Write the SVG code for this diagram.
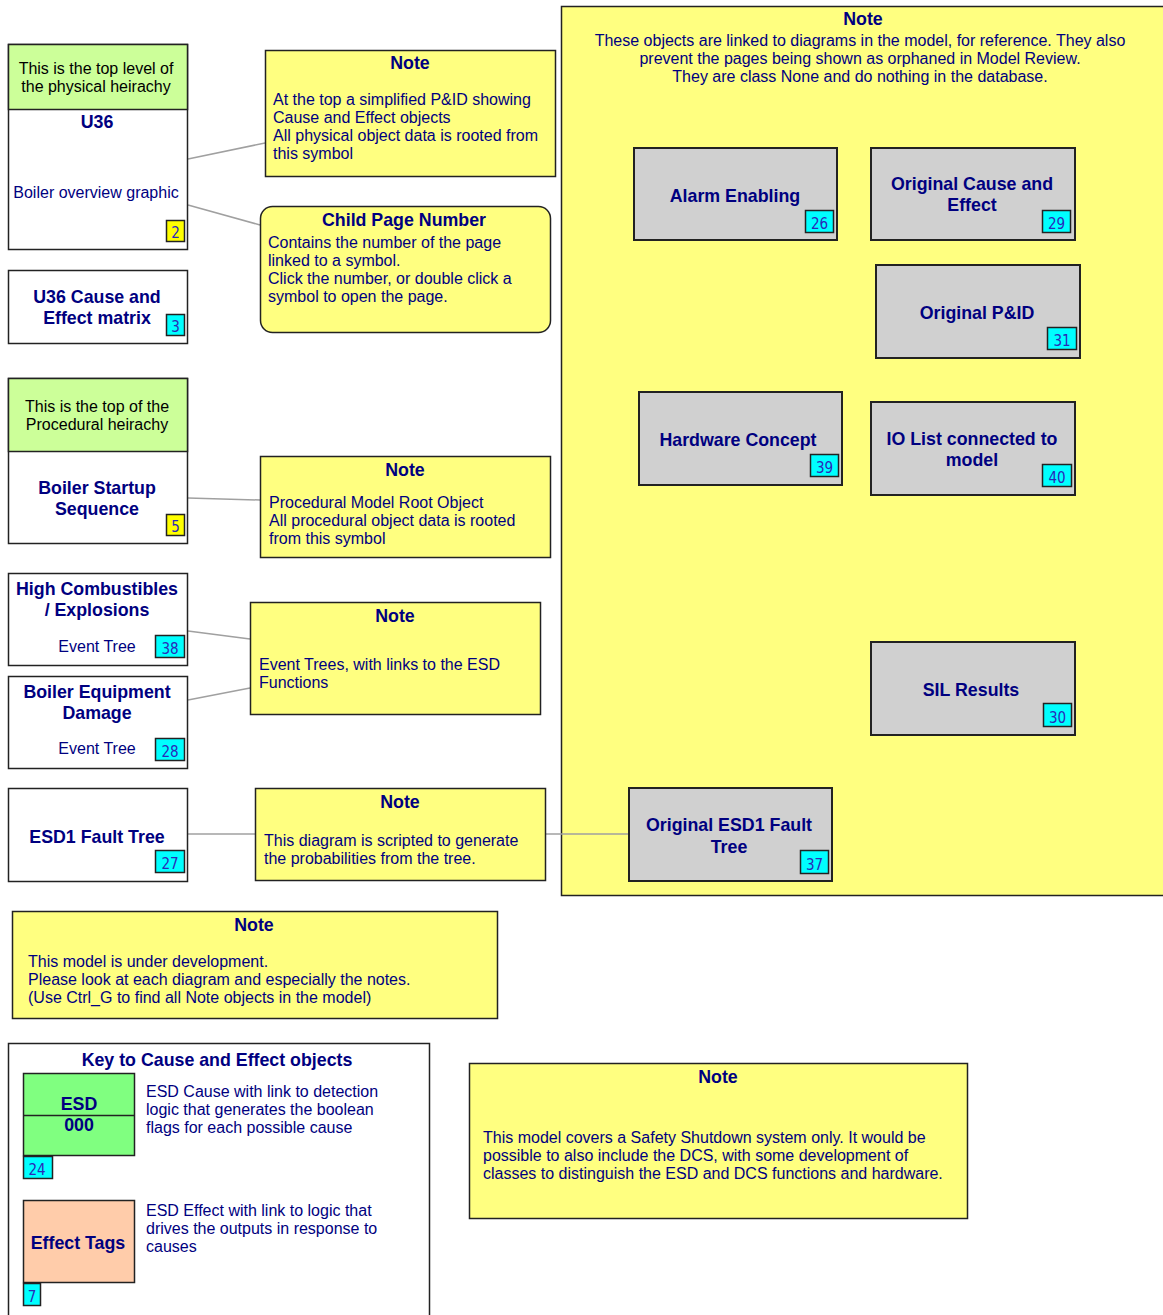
<svg xmlns="http://www.w3.org/2000/svg" width="1163" height="1315" viewBox="0 0 1163 1315">
<style>
text{font-family:"Liberation Sans",Arial,sans-serif;fill:#000080}
.t{font-size:16px}
.b{font-size:17.8px;font-weight:bold}
.c{text-anchor:middle}
.k{fill:#000;font-size:16px}
.box{fill:#fff;stroke:#222;stroke-width:1.5}
.hdr{fill:#ccff99;stroke:#222;stroke-width:1.5}
.note{fill:#ffff80;stroke:#222;stroke-width:1.5}
.gray{fill:#d0d0d0;stroke:#222;stroke-width:2}
.cy{fill:#00ffff;stroke:#222;stroke-width:1.5}
.ye{fill:#ffff00;stroke:#222;stroke-width:1.5}
.n{font-family:"Liberation Sans Narrow","DejaVu Sans Condensed","Liberation Sans",sans-serif;font-stretch:condensed;font-size:15px;fill:#2a2ab8;text-anchor:middle}
.con{stroke:#a0a0a0;stroke-width:1.5;fill:none}
</style>
<rect width="1163" height="1315" fill="#fff"/>

<g id="panel">
<rect class="note" x="561.5" y="6.5" width="610" height="889"/>
<text class="b c" x="863" y="25">Note</text>
<text class="t c" x="860" y="46">These objects are linked to diagrams in the model, for reference. They also</text>
<text class="t c" x="860" y="64">prevent the pages being shown as orphaned in Model Review.</text>
<text class="t c" x="860" y="82">They are class None and do nothing in the database.</text>
</g>

<g id="connectors">
<line class="con" x1="188" y1="159" x2="265" y2="143"/>
<line class="con" x1="188" y1="205" x2="260" y2="225"/>
<line class="con" x1="188" y1="498" x2="260" y2="500"/>
<line class="con" x1="188" y1="631" x2="250" y2="639"/>
<line class="con" x1="188" y1="700" x2="250" y2="688"/>
<line class="con" x1="188" y1="834" x2="255" y2="834"/>
<line class="con" x1="546" y1="834" x2="629" y2="834"/>
</g>

<g id="u36">
<rect class="box" x="8.5" y="44.5" width="179" height="205"/>
<rect class="hdr" x="8.5" y="44.5" width="179" height="65"/>
<text class="k c" x="96" y="74">This is the top level of</text>
<text class="k c" x="96" y="92">the physical heirachy</text>
<text class="b c" x="97" y="128">U36</text>
<text class="t c" x="96" y="198">Boiler overview graphic</text>
<rect class="ye" x="166.5" y="220.5" width="18" height="21"/>
<text class="n" x="175.5" y="238">2</text>
</g>

<g id="u36ce">
<rect class="box" x="8.5" y="270.5" width="179" height="73"/>
<text class="b c" x="97" y="303">U36 Cause and</text>
<text class="b c" x="97" y="324">Effect matrix</text>
<rect class="cy" x="166.5" y="314.5" width="18" height="21"/>
<text class="n" x="175.5" y="332">3</text>
</g>

<g id="startup">
<rect class="box" x="8.5" y="378.5" width="179" height="165"/>
<rect class="hdr" x="8.5" y="378.5" width="179" height="73"/>
<text class="k c" x="97" y="412">This is the top of the</text>
<text class="k c" x="97" y="430">Procedural heirachy</text>
<text class="b c" x="97" y="494">Boiler Startup</text>
<text class="b c" x="97" y="515">Sequence</text>
<rect class="ye" x="166.5" y="514.5" width="18" height="21"/>
<text class="n" x="175.5" y="532">5</text>
</g>

<g id="highcomb">
<rect class="box" x="8.5" y="573.5" width="179" height="92"/>
<text class="b c" x="97" y="595">High Combustibles</text>
<text class="b c" x="97" y="616">/ Explosions</text>
<text class="t c" x="97" y="652">Event Tree</text>
<rect class="cy" x="155.5" y="635.5" width="29" height="22"/>
<text class="n" x="170" y="654">38</text>
</g>

<g id="boilerdmg">
<rect class="box" x="8.5" y="676.5" width="179" height="92"/>
<text class="b c" x="97" y="698">Boiler Equipment</text>
<text class="b c" x="97" y="719">Damage</text>
<text class="t c" x="97" y="754">Event Tree</text>
<rect class="cy" x="155.5" y="738.5" width="29" height="22"/>
<text class="n" x="170" y="757">28</text>
</g>

<g id="esd1">
<rect class="box" x="8.5" y="788.5" width="179" height="93"/>
<text class="b c" x="97" y="843">ESD1 Fault Tree</text>
<rect class="cy" x="155.5" y="850.5" width="29" height="22"/>
<text class="n" x="170" y="869">27</text>
</g>

<g id="note1">
<rect class="note" x="265.5" y="50.5" width="290" height="126"/>
<text class="b c" x="410" y="69">Note</text>
<text class="t" x="273" y="105">At the top a simplified P&amp;ID showing</text>
<text class="t" x="273" y="123">Cause and Effect objects</text>
<text class="t" x="273" y="141">All physical object data is rooted from</text>
<text class="t" x="273" y="159">this symbol</text>
</g>

<g id="childpage">
<rect class="note" x="260.5" y="206.5" width="290" height="126" rx="12"/>
<text class="b c" x="404" y="226">Child Page Number</text>
<text class="t" x="268" y="248">Contains the number of the page</text>
<text class="t" x="268" y="266">linked to a symbol.</text>
<text class="t" x="268" y="284">Click the number, or double click a</text>
<text class="t" x="268" y="302">symbol to open the page.</text>
</g>

<g id="note2">
<rect class="note" x="260.5" y="456.5" width="290" height="101"/>
<text class="b c" x="405" y="476">Note</text>
<text class="t" x="269" y="508">Procedural Model Root Object</text>
<text class="t" x="269" y="526">All procedural object data is rooted</text>
<text class="t" x="269" y="544">from this symbol</text>
</g>

<g id="note3">
<rect class="note" x="250.5" y="602.5" width="290" height="112"/>
<text class="b c" x="395" y="622">Note</text>
<text class="t" x="259" y="670">Event Trees, with links to the ESD</text>
<text class="t" x="259" y="688">Functions</text>
</g>

<g id="note4">
<rect class="note" x="255.5" y="788.5" width="290" height="92"/>
<text class="b c" x="400" y="808">Note</text>
<text class="t" x="264" y="846">This diagram is scripted to generate</text>
<text class="t" x="264" y="864">the probabilities from the tree.</text>
</g>

<g id="note5">
<rect class="note" x="12.5" y="911.5" width="485" height="107"/>
<text class="b c" x="254" y="931">Note</text>
<text class="t" x="28" y="967">This model is under development.</text>
<text class="t" x="28" y="985">Please look at each diagram and especially the notes.</text>
<text class="t" x="28" y="1003">(Use Ctrl_G to find all Note objects  in the model)</text>
</g>

<g id="note6">
<rect class="note" x="469.5" y="1063.5" width="498" height="155"/>
<text class="b c" x="718" y="1083">Note</text>
<text class="t" x="483" y="1143">This model covers a Safety Shutdown system only. It would be</text>
<text class="t" x="483" y="1161">possible to also include the DCS, with some development of</text>
<text class="t" x="483" y="1179">classes to distinguish the ESD and DCS functions and hardware.</text>
</g>

<g id="alarm">
<rect class="gray" x="634" y="148" width="203" height="92"/>
<text class="b c" x="735" y="202">Alarm Enabling</text>
<rect class="cy" x="805.5" y="210.5" width="28" height="22"/>
<text class="n" x="819.5" y="229">26</text>
</g>

<g id="origce">
<rect class="gray" x="871" y="148" width="204" height="92"/>
<text class="b c" x="972" y="190">Original Cause and</text>
<text class="b c" x="972" y="211">Effect</text>
<rect class="cy" x="1042.5" y="210.5" width="28" height="22"/>
<text class="n" x="1056.5" y="229">29</text>
</g>

<g id="origpid">
<rect class="gray" x="876" y="265" width="204" height="93"/>
<text class="b c" x="977" y="319">Original P&amp;ID</text>
<rect class="cy" x="1047.5" y="327.5" width="29" height="22"/>
<text class="n" x="1062" y="346">31</text>
</g>

<g id="hardware">
<rect class="gray" x="639" y="392" width="203" height="93"/>
<text class="b c" x="738" y="446">Hardware Concept</text>
<rect class="cy" x="810.5" y="454.5" width="28" height="22"/>
<text class="n" x="824.5" y="473">39</text>
</g>

<g id="iolist">
<rect class="gray" x="871" y="402" width="204" height="93"/>
<text class="b c" x="972" y="445">IO List connected to</text>
<text class="b c" x="972" y="466">model</text>
<rect class="cy" x="1042.5" y="464.5" width="29" height="22"/>
<text class="n" x="1057" y="483">40</text>
</g>

<g id="sil">
<rect class="gray" x="871" y="642" width="204" height="93"/>
<text class="b c" x="971" y="696">SIL Results</text>
<rect class="cy" x="1043.5" y="703.5" width="28" height="23"/>
<text class="n" x="1057.5" y="723">30</text>
</g>

<g id="origesd1">
<rect class="gray" x="629" y="788" width="203" height="93"/>
<text class="b c" x="729" y="831">Original ESD1 Fault</text>
<text class="b c" x="729" y="853">Tree</text>
<rect class="cy" x="800.5" y="850.5" width="28" height="23"/>
<text class="n" x="814.5" y="870">37</text>
</g>

<g id="key">
<rect class="box" x="8.5" y="1043.5" width="421" height="290"/>
<text class="b c" x="217" y="1066">Key to Cause and Effect objects</text>
<rect x="23.5" y="1073.5" width="111" height="82" fill="#80ff80" stroke="#222" stroke-width="1.5"/>
<line x1="23.5" y1="1115.5" x2="134.5" y2="1115.5" stroke="#222" stroke-width="1.5"/>
<text class="b c" x="79" y="1110">ESD</text>
<text class="b c" x="79" y="1131">000</text>
<rect class="cy" x="23.5" y="1156.5" width="29" height="22"/>
<text class="n" x="37" y="1175">24</text>
<text class="t" x="146" y="1097">ESD Cause with link to detection</text>
<text class="t" x="146" y="1115">logic that generates the boolean</text>
<text class="t" x="146" y="1133">flags for each possible cause</text>
<rect x="23.5" y="1200.5" width="111" height="82" fill="#ffccaa" stroke="#222" stroke-width="1.5"/>
<text class="b c" x="78" y="1249">Effect Tags</text>
<rect class="cy" x="23.5" y="1283.5" width="17" height="22"/>
<text class="n" x="32" y="1302">7</text>
<text class="t" x="146" y="1216">ESD Effect with link to logic that</text>
<text class="t" x="146" y="1234">drives the outputs in response to</text>
<text class="t" x="146" y="1252">causes</text>
</g>
</svg>
